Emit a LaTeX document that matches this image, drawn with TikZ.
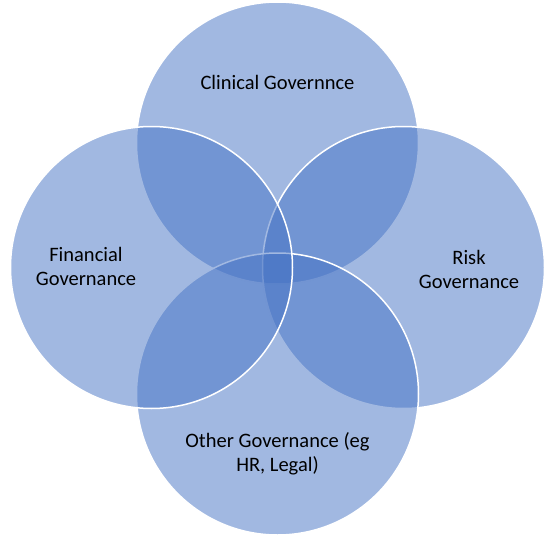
\documentclass[tikz,border=0pt]{standalone}
\usepackage{fontspec}
\setmainfont{Carlito}
\definecolor{vennblue}{HTML}{4472C4}
\begin{document}
\begin{tikzpicture}[x=1pt,y=-1pt,
  venn/.style={circle,minimum size=282pt,inner sep=0pt,fill=vennblue,fill opacity=0.5,draw=white,draw opacity=1,line width=1.5pt},
  lbl/.style={align=center,font=\fontsize{20.5}{24}\selectfont,text=black,text opacity=1}]
\useasboundingbox (0,0) rectangle (555,538);
\node[venn] (top) at (277.5,143) {};
\node[venn] (right) at (403.5,267.5) {};
\node[venn] (bottom) at (277.5,394) {};
\node[venn] (left) at (151.5,267.5) {};
\node[lbl] (tl) at (277.5,82) {Clinical Governnce};
\node[lbl] (ll) at (86,266) {Financial\\Governance};
\node[lbl] (rl) at (469,269) {Risk\\Governance};
\node[lbl] (bl) at (277.5,454) {Other Governance (eg\\HR, Legal)};
\end{tikzpicture}
\end{document}
